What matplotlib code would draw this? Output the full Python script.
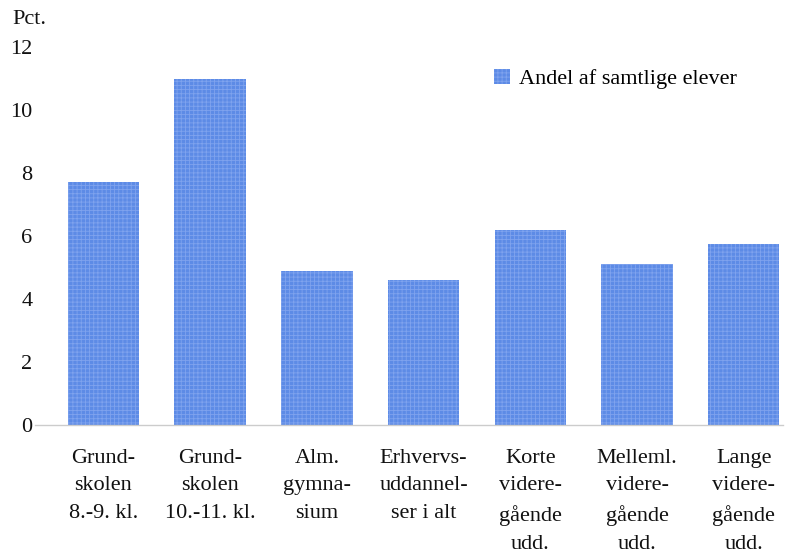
import matplotlib
matplotlib.use("Agg")
import matplotlib.pyplot as plt
from matplotlib.patches import Patch

categories = ["Grund-\nskolen\n8.-9. kl.", "Grund-\nskolen\n10.-11. kl.", "Alm.\ngymna-\nsium",
              "Erhvervs-\nuddannel-\nser i alt", "Korte\nvidere-\ngående\nudd.",
              "Melleml.\nvidere-\ngående\nudd.", "Lange\nvidere-\ngående\nudd."]
values = [7.7, 11.0, 4.9, 4.6, 6.2, 5.1, 5.75]
yticks = [0, 2, 4, 6, 8, 10, 12]
legend_label = "Andel af samtlige elever"

plt.rcParams['font.family'] = ['Liberation Serif', 'DejaVu Serif']
plt.rcParams['hatch.color'] = '#7fa3ee'
plt.rcParams['hatch.linewidth'] = 0.6

fig = plt.figure(figsize=(8, 5.53), dpi=100)
ax = fig.add_axes([0.044, 0.2315, 0.935, 0.6835])
bar_color = '#5d8be6'
x = list(range(len(categories)))
ax.bar(x, values, width=0.67, color=bar_color, linewidth=0, hatch='++++')
ax.set_xlim(-0.64, 6.37)
ax.set_ylim(0, 12)
ax.set_yticks(yticks)
ax.set_yticklabels([str(t) for t in yticks], fontsize=16)
ax.set_xticks(x)
ax.set_xticklabels(categories, fontsize=16, linespacing=1.62, va='top')
ax.tick_params(axis='both', length=0, colors='#111111')
ax.tick_params(axis='x', pad=17)
ax.tick_params(axis='y', pad=2)
for s in ['top', 'right', 'left']:
    ax.spines[s].set_visible(False)
ax.spines['bottom'].set_color('#cccccc')
ax.spines['bottom'].set_linewidth(1)

fig.text(0.015, 0.965, "Pct.", fontsize=16, va='center', ha='left', color='#111111')
handle = Patch(facecolor=bar_color, linewidth=0, hatch='++++')
ax.legend([handle], [legend_label], loc='upper left', bbox_to_anchor=(0.587, 0.996),
          frameon=False, fontsize=16, handlelength=0.7, handleheight=0.7,
          handletextpad=0.4)
fig.savefig("out.png", dpi=100)
